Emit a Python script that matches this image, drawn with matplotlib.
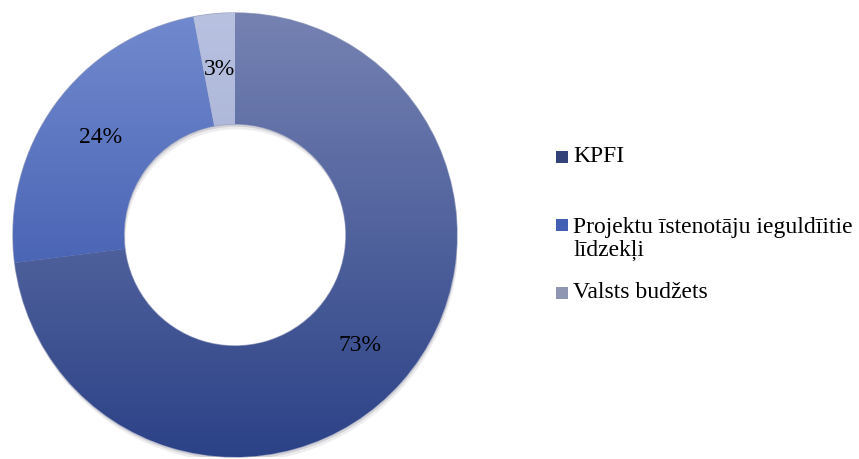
"""
Donut chart: KPFI funding sources.
"""

import numpy as np
import matplotlib.pyplot as plt
from matplotlib.colors import LinearSegmentedColormap
from matplotlib.patches import Rectangle, Wedge

plt.rcParams["font.family"] = ["Liberation Serif", "DejaVu Serif"]

labels = ["KPFI", "Projektu īstenotāju ieguldīitie\nlīdzekļi", "Valsts budžets"]
shares = [73, 24, 3]
top_colors = ["#7582b2", "#718ace", "#b8c1e0"]
bottom_colors = ["#2c4287", "#2e49a3", "#939fc8"]
legend_colors = ["#34427a", "#4460b4", "#8e96b2"]


def draw_donut():
    fig = plt.figure(figsize=(8.59, 4.59), dpi=100)
    ax = fig.add_axes([13 / 859, 2 / 459, 444 / 859, 444 / 459])

    # soft shadow under the ring
    for off, a in [(0.012, 0.18), (0.024, 0.10)]:
        ax.add_patch(Wedge((off * 0.3, -off), 1.0, 0, 360, width=0.5,
                           facecolor="#555566", edgecolor="none",
                           alpha=a, zorder=0.5))

    wedges, texts, autotexts = ax.pie(
        shares,
        startangle=90,
        counterclock=False,
        radius=1.0,
        autopct="%.0f%%",
        pctdistance=0.75,
        wedgeprops=dict(width=0.5, edgecolor="#9ba3c2", linewidth=1.0),
        textprops=dict(fontsize=17, color="black"),
    )

    # vertical gradient fill clipped to each wedge
    grad = np.linspace(0, 1, 256).reshape(-1, 1)
    for w, top, bot in zip(wedges, top_colors, bottom_colors):
        cmap = LinearSegmentedColormap.from_list("g", [top, bot])
        im = ax.imshow(grad, cmap=cmap, extent=(-1, 1, -1, 1),
                       origin="upper", aspect="auto", zorder=1.5)
        im.set_clip_path(w)
        w.set_facecolor(bot)

    for t in autotexts:
        t.set_zorder(5)

    ax.set_xlim(-1.0, 1.0)
    ax.set_ylim(-1.0, 1.0)
    ax.set_aspect("equal")
    ax.axis("off")

    # legend drawn by hand to match spacing
    text_y = [157, 239, 293]
    for lab, col, ty in zip(labels, legend_colors, text_y):
        first_line_y = ty if "\n" not in lab else ty - 14
        fig.add_artist(Rectangle((556 / 859, 1 - (first_line_y + 6) / 459),
                                 12 / 859, 12 / 459, transform=fig.transFigure,
                                 facecolor=col, edgecolor="none"))
        fig.text(573 / 859, 1 - ty / 459, lab, fontsize=17,
                 va="center", ha="left", linespacing=1.15)

    fig.savefig("out.png", dpi=100)


if __name__ == "__main__":
    draw_donut()
